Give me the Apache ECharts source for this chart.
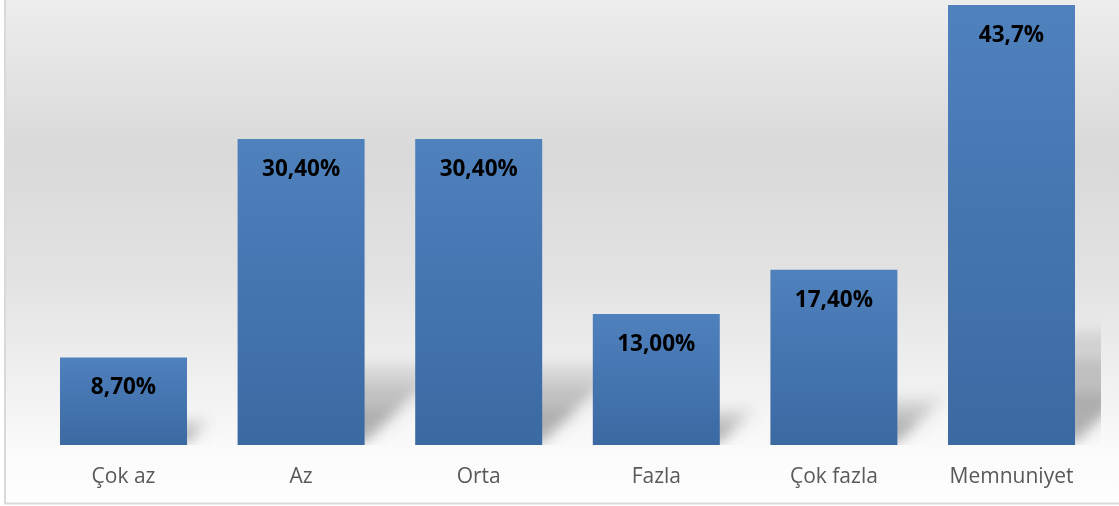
<!DOCTYPE html>
<html>
<head>
<meta charset="utf-8">
<script src="https://cdn.jsdelivr.net/npm/echarts@6/dist/echarts.min.js"></script>
<style>
html,body{margin:0;padding:0;background:#fff;}
#c{width:1119px;height:506px;}
</style>
</head>
<body>
<div id="c"></div>
<script>
const categories = ['Çok az', 'Az', 'Orta', 'Fazla', 'Çok fazla', 'Memnuniyet'];
const values = [8.7, 30.4, 30.4, 13.0, 17.4, 43.7];
const labels = ['8,70%', '30,40%', '30,40%', '13,00%', '17,40%', '43,7%'];

const chart = echarts.init(document.getElementById('c'), null, {renderer: 'canvas'});
const BAR_RATIO = 0.715;
const OFF = 3000;

const option = {
  animation: false,
  backgroundColor: '#ffffff',
  graphic: [
    {
      type: 'rect', z: -10, silent: true,
      shape: {x: 5, y: 0, width: 1114, height: 503},
      style: {
        fill: new echarts.graphic.LinearGradient(0, 0, 0, 1, [
          {offset: 0, color: '#ededed'},
          {offset: 0.3, color: '#d9d9d9'},
          {offset: 0.55, color: '#e2e2e2'},
          {offset: 0.8, color: '#f3f3f3'},
          {offset: 0.9, color: '#fbfbfb'},
          {offset: 1, color: '#fdfdfd'}
        ]),
        lineWidth: 0
      }
    },
    {
      type: 'polyline', z: 10, silent: true,
      shape: {points: [[5, 0], [5, 503.5], [1119, 503.5]]},
      style: {stroke: '#d9d9d9', lineWidth: 2, fill: null}
    }
  ],
  grid: {left: 34.7, right: 18.7, top: 5, bottom: 61, containLabel: false},
  xAxis: {
    type: 'category',
    data: categories,
    axisLine: {show: false},
    axisTick: {show: false},
    axisLabel: {color: '#595959', fontFamily: 'Open Sans', fontSize: 21, margin: 22}
  },
  yAxis: {
    type: 'value', min: 0, max: 43.7, show: false,
    splitLine: {show: false}
  },
  series: [
    {
      type: 'custom',
      clip: true,
      z: 1,
      silent: true,
      data: values.map((v, i) => [i, v]),
      renderItem: function (params, api) {
        const base = api.coord([api.value(0), 0]);
        const top = api.coord([api.value(0), api.value(1)]);
        const band = api.size([1, 0])[0];
        const w = band * BAR_RATIO;
        const L = base[0] - w / 2;
        const R = base[0] + w / 2;
        const H = base[1] - top[1];
        const b = base[1] - 3;
        const layers = [0.45, 0.75, 1.0];
        const children = layers.map(function (f) {
          const h = H * 0.25 * f;
          const dx = h * 1.05;
          return {
            type: 'polygon',
            shape: {points: [
              [L + 10 - OFF, b], [R - OFF, b],
              [R + dx - OFF, b - h], [L + 10 + dx - OFF, b - h]
            ]},
            style: {
              fill: '#000',
              shadowColor: 'rgba(0,0,0,0.105)',
              shadowBlur: 13,
              shadowOffsetX: OFF,
              shadowOffsetY: 0
            }
          };
        });
        return {type: 'group', children: children};
      }
    },
    {
      type: 'bar',
      z: 2,
      data: values,
      barWidth: (BAR_RATIO * 100) + '%',
      itemStyle: {
        color: new echarts.graphic.LinearGradient(0, 0, 0, 1, [
          {offset: 0, color: '#4f81bd'},
          {offset: 1, color: '#3b69a2'}
        ])
      },
      label: {
        show: true,
        position: 'insideTop',
        distance: 19,
        color: '#000',
        fontFamily: 'Open Sans',
        fontWeight: 'bold',
        fontSize: 22.5,
        formatter: function (p) { return labels[p.dataIndex]; }
      }
    }
  ]
};
chart.setOption(option);
</script>
</body>
</html>
